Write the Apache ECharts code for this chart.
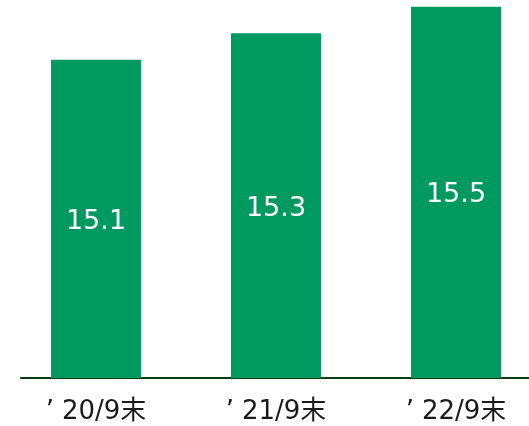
<!DOCTYPE html>
<html><head><meta charset="utf-8">
<script src="https://cdn.jsdelivr.net/npm/echarts@6/dist/echarts.min.js"></script>
<style>html,body{margin:0;padding:0;background:#fff}#c{width:529px;height:426px}</style>
</head><body><div id="c"></div>
<script>
const categories = ["’20/9末", "’21/9末", "’22/9末"];
const values = [15.1, 15.3, 15.5];

const FONT = '"DejaVu Sans", "Noto Sans CJK JP", sans-serif';
const chart = echarts.init(document.getElementById('c'), null, {renderer: 'canvas'});
chart.setOption({
  animation: false,
  grid: [
    {left: 6, width: 540, top: 0, bottom: 48, outerBoundsMode: 'none', containLabel: false},
    {left: 21, right: 0, top: 0, bottom: 48, outerBoundsMode: 'none', containLabel: false}
  ],
  xAxis: [
    {type: 'category', data: categories, gridIndex: 0,
     axisLine: {show: false}, axisTick: {show: false},
     axisLabel: {margin: 19,
       formatter: v => '{a|' + v[0] + '}{b|' + v.slice(1) + '}',
       rich: {
         a: {color: '#1a1a1a', fontSize: 26, lineHeight: 30, padding: [0, 8, 0, 0], fontFamily: FONT},
         b: {color: '#1a1a1a', fontSize: 26, lineHeight: 30, fontFamily: FONT}
       }}},
    {type: 'category', data: categories, gridIndex: 1,
     axisLine: {show: true, lineStyle: {color: '#0b3b10', width: 2}},
     axisTick: {show: false}, axisLabel: {show: false}}
  ],
  yAxis: [
    {type: 'value', gridIndex: 0, min: 12.7, max: 15.55, show: false, splitLine: {show: false}},
    {type: 'value', gridIndex: 1, min: 0, max: 1, show: false, splitLine: {show: false}}
  ],
  series: [{
    type: 'bar', xAxisIndex: 0, yAxisIndex: 0,
    data: values, barWidth: 90,
    itemStyle: {color: '#009A61'},
    label: {show: true, position: 'inside', offset: [0, 3], color: '#fff', fontSize: 27,
      fontFamily: FONT,
      formatter: p => p.value.toFixed(1)}
  }]
});
</script></body></html>
